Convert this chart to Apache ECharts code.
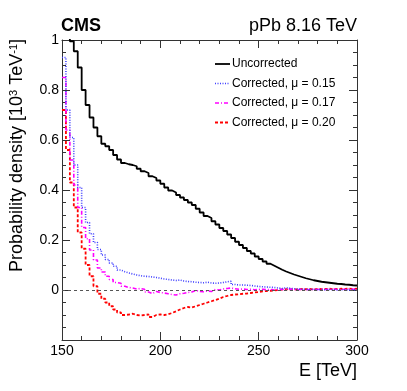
<!DOCTYPE html>
<html>
<head>
<meta charset="utf-8">
<script src="https://cdn.jsdelivr.net/npm/echarts@6/dist/echarts.min.js"></script>
<style>
html,body{margin:0;padding:0;background:#fff;}
#chart{width:407px;height:391px;}
</style>
</head>
<body>
<div id="chart"></div>
<script>
// Bin low edges (TeV), 2 TeV bins from 150 to 300
const binEdges = [150,152,154,156,158,160,162,164,166,168,170,172,174,176,178,180,182,184,186,188,190,192,194,196,198,200,202,204,206,208,210,212,214,216,218,220,222,224,226,228,230,232,234,236,238,240,242,244,246,248,250,252,254,256,258,260,262,264,266,268,270,272,274,276,278,280,282,284,286,288,290,292,294,296,298];
const lastEdge = 300;

const uncorrected = [1.3,1.1,0.995,0.955,0.89,0.80,0.74,0.69,0.65,0.615,0.585,0.575,0.56,0.54,0.522,0.508,0.503,0.5,0.495,0.485,0.475,0.468,0.455,0.448,0.438,0.425,0.41,0.398,0.39,0.38,0.37,0.36,0.35,0.34,0.325,0.31,0.296,0.288,0.275,0.262,0.248,0.236,0.222,0.208,0.193,0.18,0.168,0.156,0.146,0.134,0.124,0.114,0.105,0.097,0.089,0.081,0.074,0.068,0.062,0.057,0.052,0.047,0.043,0.039,0.036,0.033,0.031,0.029,0.027,0.025,0.024,0.022,0.021,0.019,0.018];

const corr015 = [0.93,0.72,0.61,0.50,0.41,0.33,0.27,0.225,0.19,0.162,0.14,0.122,0.108,0.095,0.08,0.073,0.068,0.064,0.06,0.057,0.055,0.054,0.052,0.05,0.047,0.044,0.042,0.04,0.038,0.04,0.036,0.034,0.033,0.031,0.03,0.029,0.031,0.028,0.027,0.028,0.03,0.033,0.035,0.022,0.02,0.02,0.019,0.018,0.016,0.014,0.013,0.012,0.011,0.01,0.008,0.006,0.009,0.007,0.005,0.004,0.003,0.002,0.003,0.002,0.001,0.002,0.001,0.002,0.001,0.0,0.001,0.001,0.0,0.001,0.001];

const corr017 = [0.85,0.64,0.52,0.42,0.33,0.25,0.205,0.16,0.12,0.088,0.072,0.055,0.042,0.03,0.027,0.015,0.01,0.008,0.004,0.006,0.003,-0.008,-0.014,-0.006,-0.01,-0.012,-0.015,-0.018,-0.02,-0.015,-0.013,-0.01,-0.008,-0.002,-0.006,-0.007,-0.004,-0.006,0.002,0.0,0.004,0.006,0.008,0.005,0.003,0.004,0.002,0.003,0.001,0.002,0.003,0.001,0.002,0.0,0.002,0.003,0.001,0.004,0.002,0.001,0.003,0.002,0.001,0.003,0.002,0.004,0.002,0.003,0.004,0.002,0.003,0.002,0.004,0.003,0.003];

const corr020 = [0.72,0.56,0.43,0.33,0.23,0.165,0.10,0.055,0.015,-0.015,-0.035,-0.05,-0.065,-0.078,-0.09,-0.1,-0.098,-0.095,-0.1,-0.102,-0.1,-0.098,-0.108,-0.1,-0.098,-0.1,-0.097,-0.092,-0.085,-0.078,-0.072,-0.068,-0.07,-0.065,-0.06,-0.055,-0.05,-0.045,-0.04,-0.035,-0.028,-0.024,-0.02,-0.018,-0.017,-0.015,-0.014,-0.012,-0.01,-0.008,-0.005,-0.004,-0.003,-0.002,0.0,0.002,0.003,0.001,0.003,0.002,0.004,0.003,0.004,0.002,0.005,0.003,0.004,0.005,0.003,0.004,0.005,0.004,0.006,0.004,0.005];

const seriesNames = ['Uncorrected', 'Corrected, \u03bc = 0.15', 'Corrected, \u03bc = 0.17', 'Corrected, \u03bc = 0.20'];
const xTicks = [150, 200, 250, 300];
const yTicks = [-0.2, 0, 0.2, 0.4, 0.6, 0.8, 1];

function hist(vals) {
  const d = binEdges.map((e, i) => [e, vals[i]]);
  d.push([lastEdge, vals[vals.length - 1]]);
  return d;
}

const FONT = '"Liberation Sans", Arial, Helvetica, sans-serif';
const chart = echarts.init(document.getElementById('chart'), null, {renderer: 'canvas'});

const styles = [
  {color: '#000000', width: 1.8, type: 'solid'},
  {color: '#3f3fff', width: 1.6, type: [1, 1.5]},
  {color: '#ff00ff', width: 1.6, type: [4, 2, 1, 2]},
  {color: '#ff0000', width: 1.8, type: [3, 2]}
];
const seriesData = [uncorrected, corr015, corr017, corr020];

const axisLineStyle = {color: '#333', width: 1};
const baseX = {
  type: 'value', min: xTicks[0], max: xTicks[xTicks.length - 1], interval: 50,
  splitLine: {show: false},
  axisLine: {show: true, lineStyle: axisLineStyle, onZero: false},
  axisTick: {show: true, inside: true, length: 8, lineStyle: {color: '#333'}},
  minorTick: {show: true, splitNumber: 5, length: 4, lineStyle: {color: '#333'}},
};
const baseY = {
  type: 'value', min: yTicks[0], max: yTicks[yTicks.length - 1], interval: 0.2,
  splitLine: {show: false},
  axisLine: {show: true, lineStyle: axisLineStyle, onZero: false},
  axisTick: {show: true, inside: true, length: 8, lineStyle: {color: '#333'}},
  minorTick: {show: true, splitNumber: 4, length: 4, lineStyle: {color: '#333'}},
};

// Hand-drawn legend (line sample + label)
const legendRowsY = [64, 83.5, 103, 122.5];
const legendGraphics = [];
seriesNames.forEach((name, i) => {
  const s = styles[i];
  legendGraphics.push({
    type: 'line', shape: {x1: 215, y1: legendRowsY[i], x2: 230, y2: legendRowsY[i]},
    style: {stroke: s.color, lineWidth: s.width, lineDash: s.type === 'solid' ? null : s.type}
  });
  legendGraphics.push({
    type: 'text', x: 232, y: legendRowsY[i],
    style: {text: name, font: '12px ' + FONT, fill: '#000', verticalAlign: 'middle', align: 'left'}
  });
});

const option = {
  animation: false,
  backgroundColor: '#fff',
  textStyle: {fontFamily: FONT},
  grid: {left: 62, right: 50, top: 40, bottom: 51, containLabel: false},
  xAxis: [
    Object.assign({}, baseX, {position: 'bottom',
      axisLabel: {show: true, fontSize: 14, color: '#000', fontFamily: FONT, margin: 4}}),
    Object.assign({}, baseX, {position: 'top', axisLabel: {show: false}})
  ],
  yAxis: [
    Object.assign({}, baseY, {position: 'left',
      axisLabel: {show: true, fontSize: 14, color: '#000', fontFamily: FONT, margin: 3,
        formatter: v => (Math.abs(v - yTicks[0]) < 1e-9 ? '' : String(+v.toFixed(1)))}}),
    Object.assign({}, baseY, {position: 'right', axisLabel: {show: false}})
  ],
  graphic: [
    {type: 'text', left: 61, top: 17, style: {text: 'CMS', font: 'bold 18px ' + FONT, fill: '#000'}},
    {type: 'text', right: 50, top: 17, style: {text: 'pPb 8.16 TeV', font: '18px ' + FONT, fill: '#000'}},
    {type: 'text', right: 50, top: 362, style: {text: 'E [TeV]', font: '18px ' + FONT, fill: '#000'}},
    {type: 'text', x: 17, y: 39, rotation: Math.PI / 2,
      style: {
        text: 'Probability density [10{sup|3} TeV{sup|-1}]',
        fontSize: 18, fontFamily: FONT, fill: '#000', align: 'right', verticalAlign: 'middle',
        rich: {sup: {fontSize: 11, fontFamily: FONT, verticalAlign: 'top', fill: '#000'}}
      }}
  ].concat(legendGraphics),
  series: seriesNames.map((name, i) => {
    const s = {
      name: name, type: 'line', step: 'end', symbol: 'none', data: hist(seriesData[i]),
      lineStyle: {color: styles[i].color, width: styles[i].width, type: styles[i].type},
      itemStyle: {color: styles[i].color}, z: 5 - i
    };
    if (i === 0) {
      s.markLine = {
        silent: true, symbol: ['none', 'none'], label: {show: false},
        lineStyle: {color: '#555', type: [3, 3], width: 1},
        data: [{yAxis: 0}]
      };
    }
    return s;
  })
};
chart.setOption(option);
</script>
</body>
</html>
